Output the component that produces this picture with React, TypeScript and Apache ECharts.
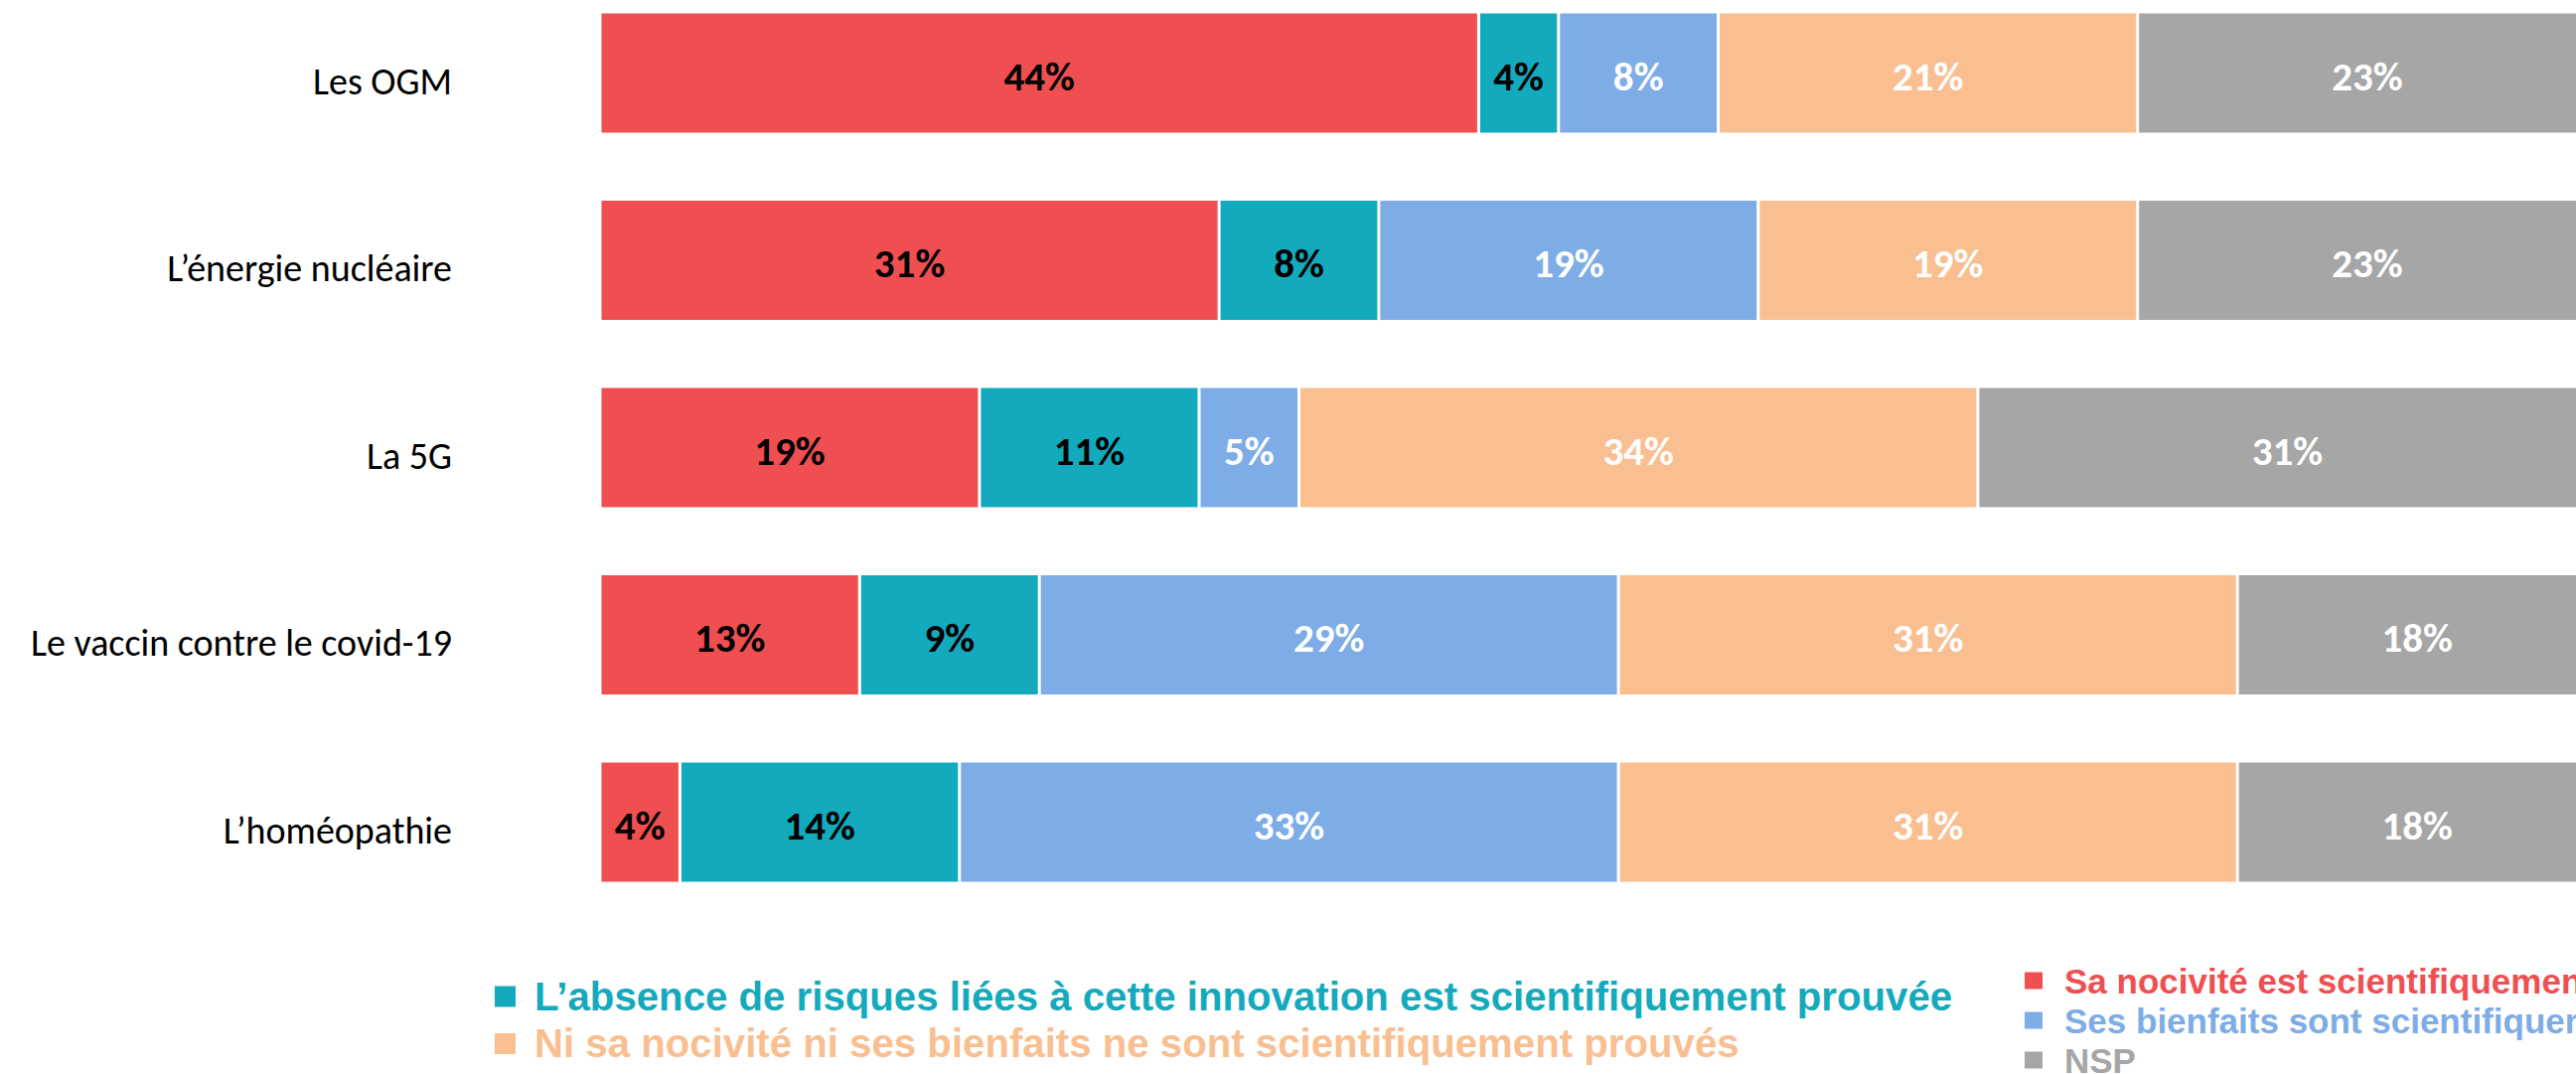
import React, { useEffect, useRef } from "react";
import * as echarts from "echarts";

const categories = [
  "Les OGM",
  "L’énergie nucléaire",
  "La 5G",
  "Le vaccin contre le covid-19",
  "L’homéopathie",
];

const seriesNames = [
  "Sa nocivité est scientifiquement prouvée",
  "L’absence de risques liées à cette innovation est scientifiquement prouvée",
  "Ses bienfaits sont scientifiquement prouvés",
  "Ni sa nocivité ni ses bienfaits ne sont scientifiquement prouvés",
  "NSP",
];

const nociviteValues = [44, 31, 19, 13, 4];
const absenceRisquesValues = [4, 8, 11, 9, 14];
const bienfaitsValues = [8, 19, 5, 29, 33];
const niNiValues = [21, 19, 34, 31, 31];
const nspValues = [23, 23, 31, 18, 18];

const seriesValues = [
  nociviteValues,
  absenceRisquesValues,
  bienfaitsValues,
  niNiValues,
  nspValues,
];

const colors = ["#F04F51", "#14AABD", "#7DACE6", "#F9BF90", "#A6A6A6"];
const labelColors = ["#000000", "#000000", "#FFFFFF", "#FFFFFF", "#FFFFFF"];

// the chart canvas is larger than the window and shifted up, so the
// reference's cropped top/right edges can be reproduced
const OFFSET_Y = 40;

export default function App() {
  const ref = useRef<HTMLDivElement>(null);

  useEffect(() => {
    if (!ref.current) return;
    const chart = echarts.init(ref.current, null, { renderer: "svg" });

    const series = seriesNames.map((name, i) => ({
      name,
      type: "bar",
      stack: "total",
      barWidth: 123,
      data: seriesValues[i],
      itemStyle: {
        color: colors[i],
        borderColor: "#FFFFFF",
        borderWidth: 1.5,
      },
      label: {
        show: true,
        position: "inside",
        formatter: "{c}%",
        color: labelColors[i],
        fontFamily: "Carlito, Lato, 'Open Sans', sans-serif",
        fontWeight: "bold",
        fontSize: 41,
        offset: [0, 3],
      },
    }));

    const option = {
      animation: false,
      backgroundColor: "#FFFFFF",
      grid: {
        left: 604,
        top: OFFSET_Y - 20.75,
        width: 2010,
        height: 942.5,
        containLabel: false,
      },
      xAxis: {
        type: "value",
        min: 0,
        max: 100,
        show: false,
      },
      yAxis: {
        type: "category",
        data: categories,
        inverse: true,
        axisLine: { show: false },
        axisTick: { show: false },
        splitLine: { show: false },
        axisLabel: {
          margin: 149,
          color: "#000000",
          fontFamily: "Carlito, Lato, 'Open Sans', sans-serif",
          fontSize: 38,
          verticalAlign: "top",
          lineHeight: 16,
        },
      },
      legend: [
        {
          orient: "vertical",
          left: 491,
          top: OFFSET_Y + 978,
          icon: "rect",
          itemWidth: 23,
          itemHeight: 23,
          itemGap: 7.5,
          selectedMode: false,
          data: [
            { name: seriesNames[1], textStyle: { color: colors[1] } },
            { name: seriesNames[3], textStyle: { color: colors[3] } },
          ],
          textStyle: {
            fontFamily: "'Liberation Sans', Arial, sans-serif",
            fontWeight: "bold",
            fontSize: 40.2,
            lineHeight: 40,
            padding: [0, 0, 0, 13],
          },
        },
        {
          orient: "vertical",
          left: 2031,
          top: OFFSET_Y + 964.5,
          icon: "rect",
          itemWidth: 20,
          itemHeight: 19,
          itemGap: 5,
          selectedMode: false,
          data: [
            { name: seriesNames[0], textStyle: { color: colors[0] } },
            { name: seriesNames[2], textStyle: { color: colors[2] } },
            { name: seriesNames[4], textStyle: { color: colors[4] } },
          ],
          textStyle: {
            fontFamily: "'Liberation Sans', Arial, sans-serif",
            fontWeight: "bold",
            fontSize: 35,
            lineHeight: 35,
            padding: [0, 0, 0, 16],
          },
        },
      ],
      series,
    };

    chart.setOption(option as any);
    return () => chart.dispose();
  }, []);

  return (
    <div
      style={{
        position: "fixed",
        left: 0,
        top: 0,
        width: "2593px",
        height: "1081px",
        overflow: "hidden",
        background: "#FFFFFF",
      }}
    >
      <div
        ref={ref}
        style={{
          position: "absolute",
          left: 0,
          top: -OFFSET_Y + "px",
          width: "3200px",
          height: "1200px",
        }}
      />
    </div>
  );
}
